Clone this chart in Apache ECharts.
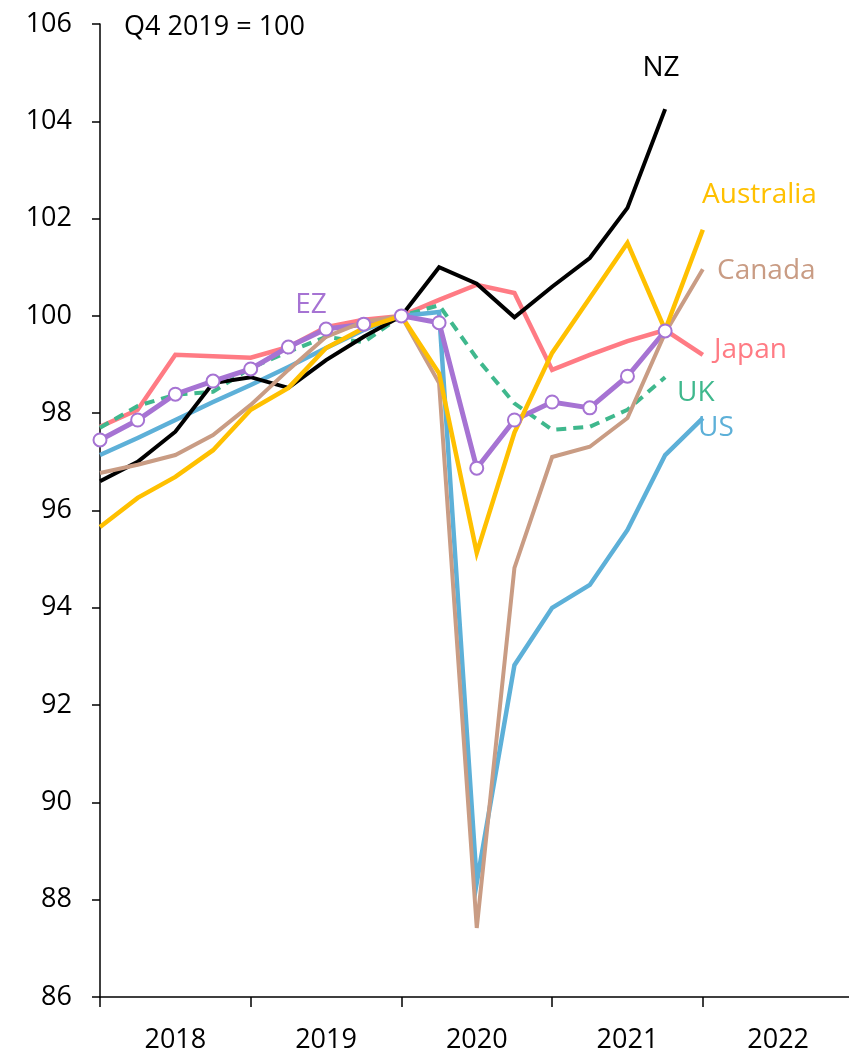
<!DOCTYPE html>
<html>
<head>
<meta charset="utf-8">
<script src="https://cdn.jsdelivr.net/npm/echarts@6/dist/echarts.min.js"></script>
<style>html,body{margin:0;padding:0;background:#fff}#c{width:849px;height:1055px}</style>
</head>
<body>
<div id="c"></div>
<script>
// Quarter index: 0 = Q4 2017 ... 8 = Q4 2019 ... 16 = Q4 2021
const quarters = [0,1,2,3,4,5,6,7,8,9,10,11,12,13,14,15,16];
const yearLabels = ['2018','2019','2020','2021','2022'];
const yTicks = [86,88,90,92,94,96,98,100,102,104,106];

const nz        = [96.60,97.00,97.62,98.62,98.74,98.52,99.09,99.57,100,101.00,100.66,99.97,100.60,101.19,102.22,104.25,null];
const australia = [95.66,96.26,96.69,97.24,98.07,98.52,99.34,99.75,100,98.82,95.13,97.60,99.24,100.37,101.50,99.71,101.77];
const canada    = [96.77,96.94,97.14,97.55,98.17,98.89,99.57,99.88,100,98.62,87.42,94.82,97.10,97.31,97.90,99.65,100.96];
const japan     = [97.72,98.07,99.20,99.17,99.14,99.36,99.77,99.92,100,100.33,100.64,100.47,98.89,99.20,99.48,99.71,99.20];
const uk        = [97.70,98.15,98.38,98.44,98.93,99.26,99.57,99.46,100,100.22,99.13,98.20,97.66,97.72,98.07,98.74,null];
const us        = [97.14,97.49,97.86,98.23,98.58,98.95,99.34,99.71,100,100.08,88.35,92.82,94.00,94.47,95.60,97.14,97.90];
const ez        = [97.45,97.86,98.39,98.66,98.91,99.36,99.73,99.83,100,99.86,96.87,97.86,98.23,98.11,98.76,99.69,null];

const FONT = '"Open Sans", "Noto Sans", sans-serif';
function pairs(arr){ return quarters.map((q,i)=>[q,arr[i]]).filter(p=>p[1]!=null); }

const colors = {nz:'#000000', australia:'#FFC000', canada:'#C99C84', japan:'#FF7B84', uk:'#3FB88D', us:'#5DB0D8', ez:'#A673D3'};

function line(name, arr, color, width, extra){
  return Object.assign({
    name, type:'line', data:pairs(arr), symbol:'none', silent:true, animation:false,
    lineStyle:{color, width, join:'miter'}, itemStyle:{color}
  }, extra||{});
}

const chart = echarts.init(document.getElementById('c'), null, {renderer:'canvas'});
chart.setOption({
  animation:false,
  grid:{left:100, top:24, right:0, bottom:58, containLabel:false},
  xAxis:{
    type:'value', min:0, max:19.88, interval:2,
    axisLine:{show:true, onZero:false, lineStyle:{color:'#000', width:1.5}},
    axisTick:{show:true, customValues:[0,4,8,12,16], length:10, inside:false, lineStyle:{color:'#000', width:1.5}},
    axisLabel:{customValues:[2,6,10,14,18], margin:30, color:'#000', fontSize:27, fontFamily:FONT,
      formatter:v=>yearLabels[Math.round((v-2)/4)]},
    splitLine:{show:false}
  },
  yAxis:{
    type:'value', min:86, max:106, interval:2,
    axisLine:{show:true, lineStyle:{color:'#000', width:1.5}},
    axisTick:{show:true, length:8, inside:false, lineStyle:{color:'#000', width:1.5}},
    axisLabel:{margin:28, color:'#000', fontSize:27, fontFamily:FONT, formatter:v=>yTicks.includes(v)?String(v):''},
    splitLine:{show:false}
  },
  series:[
    line('Japan', japan, colors.japan, 4.5),
    line('UK', uk, colors.uk, 4, {lineStyle:{color:colors.uk, width:4, type:[10,7]}}),
    line('US', us, colors.us, 4.5),
    line('NZ', nz, colors.nz, 4),
    line('EZ', ez, colors.ez, 5, {symbol:'circle', symbolSize:13, showSymbol:true,
      itemStyle:{color:'#fff', borderColor:colors.ez, borderWidth:2}}),
    line('Canada', canada, colors.canada, 4),
    line('Australia', australia, colors.australia, 4.5)
  ],
  graphic:[
    {type:'text', left:124, top:14, style:{text:'Q4 2019 = 100', font:'27px '+FONT, fill:'#000'}},
    {type:'text', x:661, y:68, style:{text:'NZ', font:'28px '+FONT, fill:colors.nz, align:'center', verticalAlign:'middle'}},
    {type:'text', x:702, y:195, style:{text:'Australia', font:'28px '+FONT, fill:colors.australia, align:'left', verticalAlign:'middle'}},
    {type:'text', x:717, y:271, style:{text:'Canada', font:'28px '+FONT, fill:colors.canada, align:'left', verticalAlign:'middle'}},
    {type:'text', x:714, y:350, style:{text:'Japan', font:'28px '+FONT, fill:colors.japan, align:'left', verticalAlign:'middle'}},
    {type:'text', x:677, y:393, style:{text:'UK', font:'28px '+FONT, fill:colors.uk, align:'left', verticalAlign:'middle'}},
    {type:'text', x:698, y:428, style:{text:'US', font:'28px '+FONT, fill:colors.us, align:'left', verticalAlign:'middle'}},
    {type:'text', x:311, y:305, style:{text:'EZ', font:'28px '+FONT, fill:colors.ez, align:'center', verticalAlign:'middle'}}
  ]
});
</script>
</body>
</html>
